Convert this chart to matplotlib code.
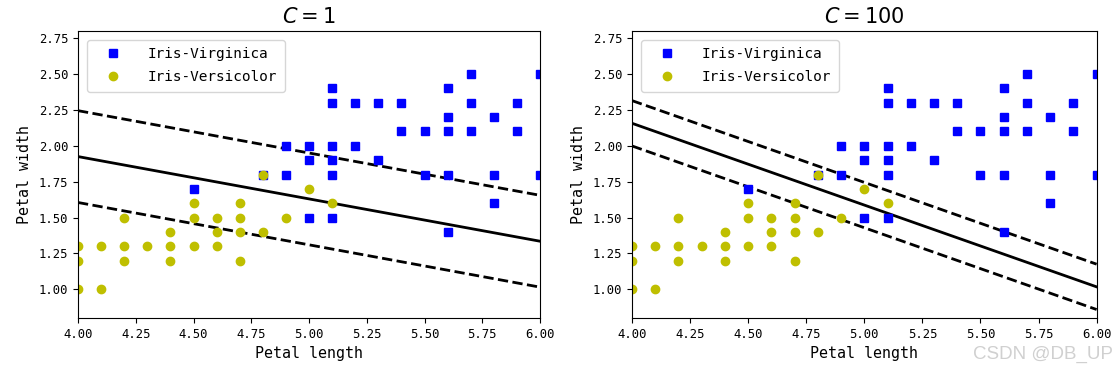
import matplotlib
matplotlib.use("Agg")
import matplotlib.pyplot as plt
import numpy as np

# Iris-Virginica (petal length, petal width) visible in the window
virginica_len = [4.5, 4.8, 4.9, 4.9, 5.0, 5.0, 5.0, 5.1, 5.1, 5.1, 5.1, 5.1, 5.1,
                 5.2, 5.2, 5.3, 5.3, 5.4, 5.4, 5.5, 5.5, 5.6, 5.6, 5.6, 5.6, 5.6,
                 5.7, 5.7, 5.7, 5.8, 5.8, 5.8, 5.9, 5.9, 6.0, 6.0]
virginica_wid = [1.7, 1.8, 2.0, 1.8, 2.0, 1.9, 1.5, 2.4, 2.3, 2.0, 1.9, 1.8, 1.5,
                 2.3, 2.0, 2.3, 1.9, 2.3, 2.1, 2.1, 1.8, 2.4, 2.2, 2.1, 1.8, 1.4,
                 2.5, 2.3, 2.1, 2.2, 1.8, 1.6, 2.3, 2.1, 2.5, 1.8]

# Iris-Versicolor
versicolor_len = [4.0, 4.0, 4.0, 4.1, 4.1, 4.2, 4.2, 4.2, 4.3, 4.4, 4.4, 4.4,
                  4.5, 4.5, 4.5, 4.6, 4.6, 4.6, 4.7, 4.7, 4.7, 4.7, 4.8, 4.8,
                  4.9, 5.0, 5.1]
versicolor_wid = [1.3, 1.2, 1.0, 1.3, 1.0, 1.5, 1.3, 1.2, 1.3, 1.4, 1.3, 1.2,
                  1.6, 1.5, 1.3, 1.5, 1.4, 1.3, 1.6, 1.5, 1.4, 1.2, 1.8, 1.4,
                  1.5, 1.7, 1.6]

# Decision boundaries: value at x=4 and x=6, and half-margin (vertical)
titles = ["$C = 1$", "$C = 100$"]
boundary_at_4 = [1.925, 2.157]
boundary_at_6 = [1.335, 1.017]
margin = [0.32, 0.158]

x_range = [4.0, 6.0]
axis_limits = [4.0, 6.0, 0.8, 2.8]

mono = "DejaVu Sans Mono"

fig = plt.figure(figsize=(11.19, 3.65), dpi=100)
positions = [[0.0697, 0.1288, 0.4129, 0.7862], [0.5648, 0.1288, 0.4152, 0.7862]]

for i in range(2):
    ax = fig.add_axes(positions[i])
    xs = np.array(x_range)
    ys = np.array([boundary_at_4[i], boundary_at_6[i]])
    ax.plot(xs, ys, "k-", linewidth=2)
    ax.plot(xs, ys + margin[i], "k--", linewidth=2)
    ax.plot(xs, ys - margin[i], "k--", linewidth=2)
    ax.plot(virginica_len, virginica_wid, "bs", label="Iris-Virginica")
    ax.plot(versicolor_len, versicolor_wid, "yo", label="Iris-Versicolor")
    ax.axis(axis_limits)
    ax.set_xticks(np.arange(4.0, 6.01, 0.25))
    ax.set_yticks(np.arange(1.0, 2.76, 0.25))
    ax.set_xticklabels([f"{v:.2f}" for v in np.arange(4.0, 6.01, 0.25)], family=mono, fontsize=8.8)
    ax.set_yticklabels([f"{v:.2f}" for v in np.arange(1.0, 2.76, 0.25)], family=mono, fontsize=8.8)
    ax.set_xlabel("Petal length", family=mono, fontsize=10.8, labelpad=4)
    ax.set_ylabel("Petal width", family=mono, fontsize=10.8, labelpad=5)
    ax.set_title(titles[i], fontsize=15, pad=6)
    ax.legend(loc="upper left", prop={"family": mono, "size": 10.4},
              handlelength=2.56, handletextpad=1.15, labelspacing=0.63,
              borderpad=0.53, borderaxespad=0.6)

fig.text(0.995, 0.018, "CSDN @DB_UP", color="#d0d0d0", fontsize=13.5,
         family="Liberation Sans", ha="right", va="baseline")

fig.savefig("out.png", dpi=100)
